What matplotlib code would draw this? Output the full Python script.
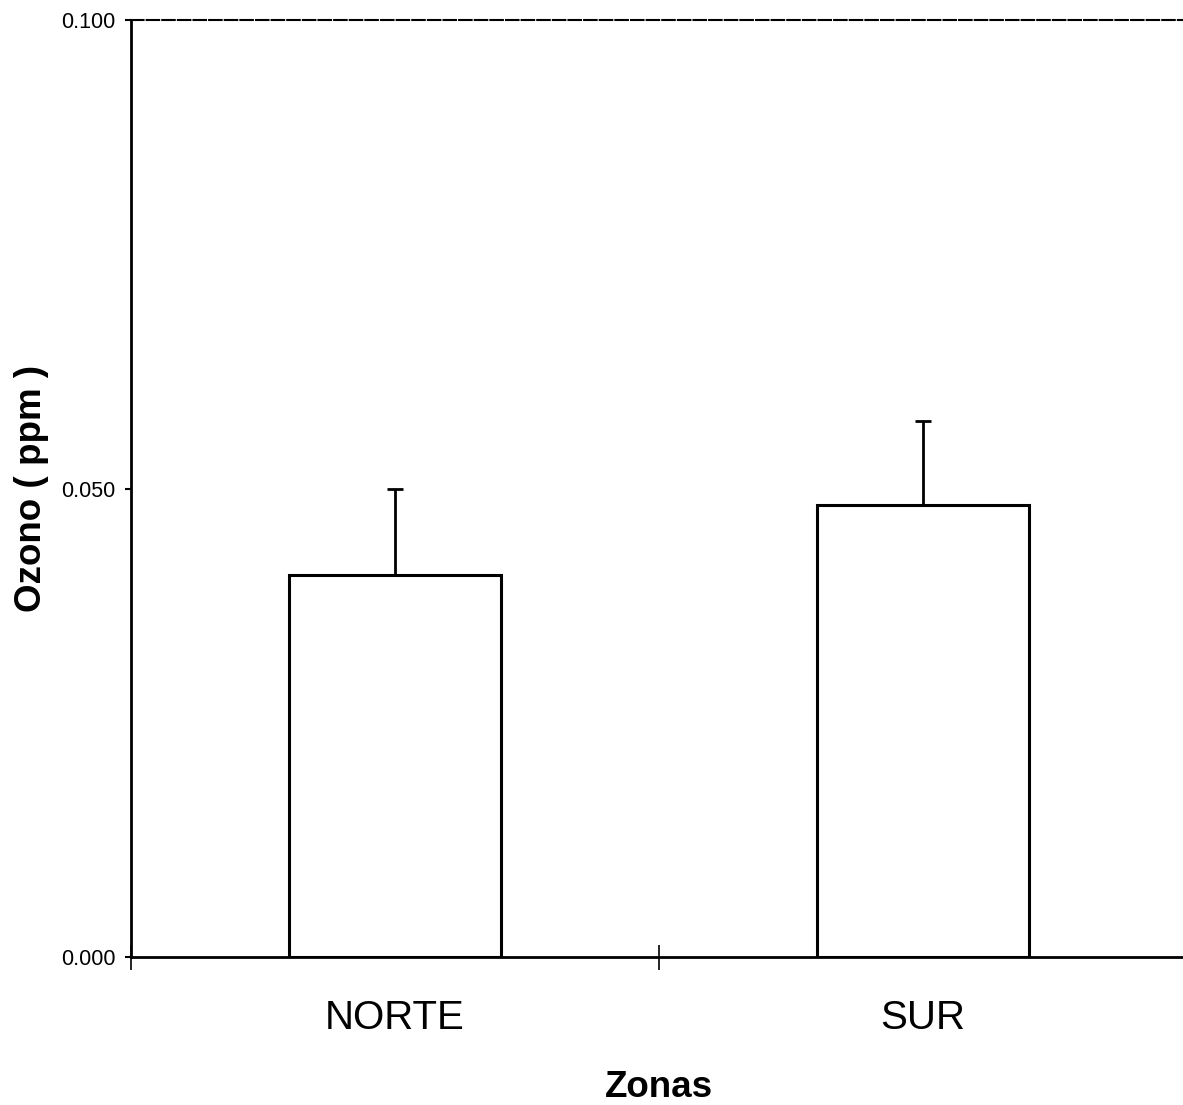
import matplotlib.pyplot as plt

# data
zonas = ['NORTE', 'SUR']
ozono = [0.0408, 0.0482]
error = [0.0091, 0.0090]
posicion = [0.5, 1.5]

plt.rcParams['font.family'] = ['Liberation Sans', 'DejaVu Sans']

fig = plt.figure(figsize=(11.83, 11.05), dpi=100)
ax = fig.add_axes([0.1107, 0.1339, 0.8927, 0.848])

ax.bar(posicion, ozono, width=0.4, color='white', edgecolor='black', linewidth=2.2, zorder=3)
ax.errorbar(posicion, ozono, yerr=[[0, 0], error], fmt='none', ecolor='black',
            elinewidth=2, capsize=6, capthick=2, zorder=2)

ax.set_xlim(0, 2)
ax.set_ylim(0, 0.1)
ax.set_yticks([0, 0.05, 0.1])
ax.set_yticklabels(['0.000', '0.050', '0.100'], fontsize=15.5)
ax.tick_params(axis='y', direction='out', length=4, width=1.5, pad=7)

ax.set_xticks([0, 1, 2])
ax.set_xticklabels(['', '', ''])
ax.tick_params(axis='x', which='major', direction='inout', length=18, width=1.2)
ax.set_xticks(posicion, minor=True)
ax.set_xticklabels(zonas, minor=True, fontsize=29)
ax.tick_params(axis='x', which='minor', length=0, pad=30)

ax.spines['right'].set_visible(False)
ax.spines['top'].set_linestyle((0, (6, 1.5)))
ax.spines['top'].set_linewidth(1.5)
ax.spines['left'].set_linewidth(2)
ax.spines['bottom'].set_linewidth(2)

ax.set_xlabel('Zonas', fontsize=26.5, fontweight='bold', labelpad=24)
ax.set_ylabel('Ozono ( ppm )', fontsize=26.5, fontweight='bold', labelpad=9)

plt.savefig('out.png', dpi=100)
